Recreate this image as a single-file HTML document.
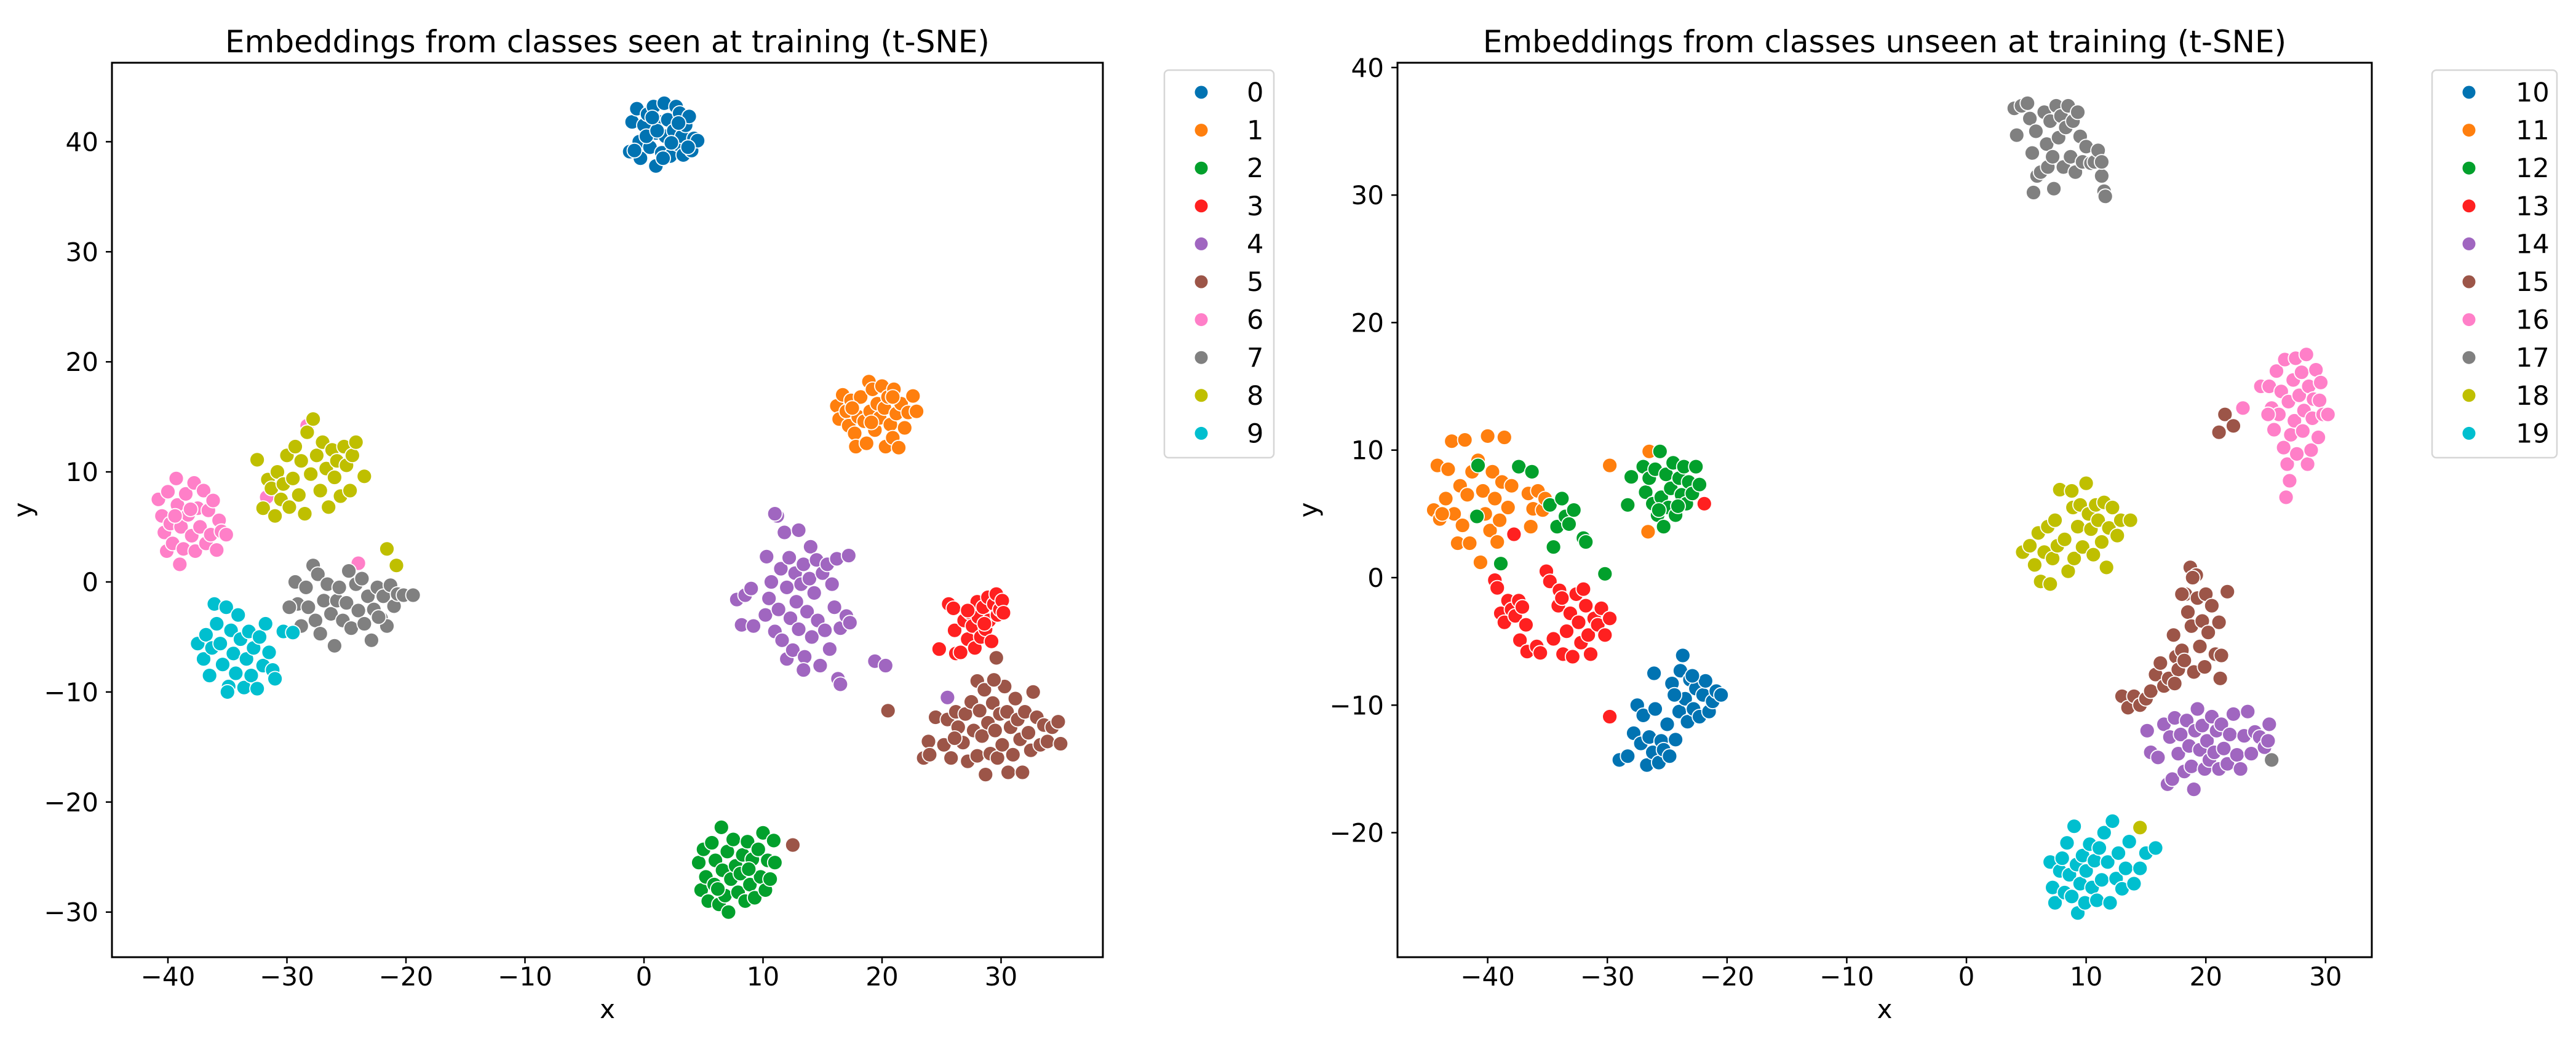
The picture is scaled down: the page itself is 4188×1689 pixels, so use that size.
<!DOCTYPE html>
<html><head><meta charset="utf-8">
<style>
html,body{margin:0;padding:0;background:#fff;}
svg{display:block;font-family:"DejaVu Sans","Liberation Sans",sans-serif;}
</style></head>
<body>
<svg id="fig" width="4188" height="1689" viewBox="0 0 4188 1689" xmlns="http://www.w3.org/2000/svg">
<rect x="0" y="0" width="4188" height="1689" fill="#fff"/>
<g id="left"></g>
<g id="right"></g>
</svg>
<script>
const palette = ["#0173b2","#ff7f0e","#02a02c","#ff2020","#a066c0","#9c5548","#ff7fc8","#808080","#bfbf00","#00bfcf"];
const seenLabels = ["0","1","2","3","4","5","6","7","8","9"];
const unseenLabels = ["10","11","12","13","14","15","16","17","18","19"];
const leftXTicks = [-40,-30,-20,-10,0,10,20,30];
const leftYTicks = [-30,-20,-10,0,10,20,30,40];
const rightXTicks = [-40,-30,-20,-10,0,10,20,30];
const rightYTicks = [-20,-10,0,10,20,30,40];

const seen0 = [[-1.2,39.1],[-1,41.8],[-0.6,43],[-0.4,40],[-0.3,38.5],[0,41.5],[0.3,42.5],[0.5,39.5],[0.8,43.2],[1,37.8],[1,40.8],[1.3,41.8],[1.5,39],[1.7,43.5],[1.8,40.5],[2,42],[2.2,38.7],[2.5,41],[2.7,43.2],[2.8,39.8],[3,42.6],[3.2,40.5],[3.3,38.8],[3.5,41.5],[3.8,42.3],[4,39.2],[4.2,40.3],[4.5,40.1],[0.2,40.5],[2.3,39.9],[1.1,41],[3.7,39.5],[-0.8,39.2],[0.7,42.2],[2.9,41.7],[1.6,38.5]];
const seen1 = [[16.2,16],[16.4,14.8],[16.7,17],[17,15.5],[17.2,14.2],[17.4,16.5],[17.7,13.5],[17.8,12.3],[18,15],[18.2,16.8],[18.5,14.6],[18.7,12.6],[18.9,18.2],[19,15.5],[19.2,17.5],[19.4,13.8],[19.6,16.2],[19.8,14.9],[20,17.8],[20.2,15.8],[20.3,12.3],[20.5,16.8],[20.7,14.3],[20.9,13.1],[21,17.5],[21.2,15.3],[21.4,12.2],[21.6,16.2],[21.9,14],[22.2,15.4],[22.6,16.9],[22.9,15.5],[19.1,14.5],[17.5,15.8],[20.9,16.8]];
const seen2 = [[4.6,-25.5],[4.8,-28],[5,-24.3],[5.2,-26.8],[5.4,-29],[5.7,-23.7],[5.9,-27.5],[6,-25.3],[6.3,-29.3],[6.5,-22.3],[6.6,-26.2],[6.8,-28.5],[7,-24.5],[7.1,-30],[7.3,-27],[7.5,-23.4],[7.7,-25.8],[7.9,-28.2],[8.1,-26.5],[8.3,-24.8],[8.5,-29],[8.7,-23.6],[8.9,-27.5],[9.1,-25.2],[9.3,-28.7],[9.6,-24.3],[9.8,-26.8],[10,-22.8],[10.2,-28],[10.4,-25.3],[10.6,-27],[10.9,-23.5],[11,-25.5],[6.2,-27.9],[8.8,-26.1]];
const seen3 = [[24.8,-6.1],[25.6,-2],[26,-2.4],[26.1,-4.4],[26.2,-6.5],[26.6,-6.4],[26.9,-3.5],[27.2,-5.2],[27.4,-2.8],[27.6,-4],[27.8,-6],[28,-1.8],[28.1,-3.2],[28.3,-5],[28.5,-2.3],[28.7,-4.3],[28.9,-1.4],[29,-3.5],[29.2,-5.4],[29.4,-2],[29.6,-1.1],[29.7,-3],[29.9,-2.5],[30.1,-1.7],[30.2,-2.8],[27.2,-2.6],[28.6,-3.8]];
const seen4 = [[7.8,-1.6],[8.2,-3.9],[8.5,-1.2],[9,-0.6],[9.2,-4],[10.2,-3],[10.5,-1.5],[10.7,0],[11,-4.5],[11.2,6],[11.3,-2.5],[11.5,1.2],[11.6,-5.3],[11.8,4.5],[12,-0.5],[12,-7],[12.2,2.2],[12.3,-3.3],[12.5,-6.2],[12.7,0.8],[12.8,-1.8],[13,4.7],[13,-4.3],[13.2,-0.2],[13.4,1.6],[13.5,-6.8],[13.7,-2.7],[13.9,0.3],[14,3.2],[14.1,-5],[14.3,-1],[14.5,2],[14.6,-3.5],[14.8,-7.6],[15,0.8],[15.2,-4.4],[15.4,1.6],[15.6,-6.1],[15.8,-0.2],[16,-2.3],[16.2,2.1],[16.3,-8.8],[16.5,-4.2],[17,-3.1],[17.3,-3.7],[17.2,2.4],[11,6.2],[10.3,2.3],[16.5,-9.3],[13.4,-8],[19.4,-7.2],[20.3,-7.6],[25.5,-10.5]];
const seen5 = [[23.5,-16],[23.9,-14.5],[24,-15.7],[24.5,-12.3],[25.2,-14.8],[25.5,-12.5],[25.8,-16],[26.2,-11.8],[26.4,-13.2],[26.8,-14.6],[27,-12],[27.2,-16.3],[27.5,-10.9],[27.7,-13.5],[28,-9],[28,-15.8],[28.2,-11.7],[28.4,-14],[28.6,-9.8],[28.7,-17.5],[28.9,-12.8],[29.1,-15.6],[29.3,-11],[29.5,-13.5],[29.7,-16],[29.9,-12],[30.1,-14.8],[30.3,-9.5],[30.5,-11.8],[30.6,-17.3],[30.8,-13.2],[31,-15.7],[31.2,-10.6],[31.4,-12.5],[31.6,-14.3],[31.8,-17.3],[32,-11.8],[32.3,-13.7],[32.5,-15.3],[32.7,-10],[33,-12.3],[33.3,-14.8],[33.6,-13],[33.9,-14.5],[34.3,-13.2],[34.8,-12.7],[35,-14.7],[26.1,-14.2],[29.4,-8.9],[20.5,-11.7],[12.5,-23.9],[29.6,-6.9]];
const seen6 = [[-40.8,7.5],[-40.5,6],[-40.3,4.5],[-40.1,2.8],[-40,8.2],[-39.8,5.3],[-39.6,3.5],[-39.3,9.4],[-39.2,7],[-39,1.6],[-38.9,5],[-38.7,3],[-38.5,8],[-38.3,6.1],[-38,4.2],[-37.8,9],[-37.7,2.8],[-37.5,6.7],[-37.3,5],[-37,8.3],[-36.8,3.5],[-36.6,6.5],[-36.4,4.3],[-36.2,7.4],[-35.9,2.9],[-35.7,5.6],[-35.5,4.6],[-35.1,4.3],[-38.1,6.6],[-39.4,6],[-28.3,14.2],[-31.7,7.7],[-24,1.7]];
const seen7 = [[-29.3,0],[-29.1,-2],[-28.8,-4],[-28.4,-0.5],[-28.2,-2.3],[-27.8,1.5],[-27.6,-3.5],[-27.4,0.7],[-27.2,-4.7],[-26.9,-1.7],[-26.6,-0.2],[-26.3,-2.9],[-26,-5.8],[-25.8,-1.7],[-25.6,-0.5],[-25.3,-3.5],[-25,-1.9],[-24.8,1],[-24.6,-4.2],[-24.2,-0.2],[-24,-2.6],[-23.7,0.3],[-23.5,-3.8],[-23.2,-1.3],[-22.9,-5.3],[-22.7,-2.5],[-22.4,-0.5],[-22.1,-3.3],[-21.9,-1.3],[-21.6,-4],[-21.3,-0.3],[-21,-2.2],[-20.7,-1.1],[-20.2,-1.2],[-19.4,-1.2],[-22.3,-3.2],[-29.8,-2.3]];
const seen8 = [[-32.5,11.1],[-32,6.7],[-31.6,9.3],[-31.3,8.5],[-31,6],[-30.8,10],[-30.5,7.5],[-30.3,8.9],[-30,11.5],[-29.8,6.8],[-29.5,9.4],[-29.3,12.3],[-29,7.9],[-28.8,11],[-28.5,6.2],[-28.3,13.6],[-28,9.8],[-27.8,14.8],[-27.5,11.5],[-27.2,8.3],[-27,12.7],[-26.7,10.3],[-26.5,6.8],[-26.2,12],[-26,9.5],[-25.8,11],[-25.5,7.8],[-25.2,12.3],[-25,10.6],[-24.7,8.3],[-24.5,11.5],[-24.2,12.7],[-23.5,9.6],[-21.6,3],[-20.8,1.5]];
const seen9 = [[-37.5,-5.6],[-37,-7],[-36.8,-4.8],[-36.5,-8.5],[-36.3,-6],[-36.1,-2],[-35.9,-3.8],[-35.6,-5.6],[-35.4,-7.5],[-35.1,-2.3],[-34.9,-9.5],[-34.7,-4.4],[-34.5,-6.5],[-34.3,-8.3],[-34.1,-3],[-33.9,-5.2],[-33.6,-9.6],[-33.4,-7],[-33.2,-4.5],[-33,-8.5],[-32.8,-6],[-32.5,-9.7],[-32.3,-5],[-32,-7.6],[-31.8,-3.8],[-31.5,-6.4],[-31.2,-8],[-31,-8.8],[-35,-10],[-30.3,-4.5],[-29.5,-4.6]];

const unseen10 = [[-29,-14.3],[-28.3,-14],[-27.8,-12.2],[-27.5,-10],[-27.2,-13],[-27,-10.8],[-26.7,-14.7],[-26.5,-12.5],[-26.2,-13.7],[-26,-10.3],[-25.7,-14.5],[-25.5,-12.8],[-25.3,-13.5],[-25,-11.5],[-24.8,-14],[-24.6,-8.3],[-24.3,-12.7],[-24,-10.5],[-23.9,-7.3],[-23.7,-6.1],[-23.5,-9.5],[-23.3,-11.3],[-23.1,-8],[-22.8,-10.3],[-22.6,-8.7],[-22.3,-10.9],[-22,-9.2],[-21.8,-8.1],[-21.5,-10.5],[-21.2,-9.7],[-20.9,-8.9],[-20.5,-9.2],[-26.1,-7.5],[-24.4,-9.2],[-22.9,-7.7]];
const unseen11 = [[-44.5,5.3],[-44.2,8.8],[-44,4.6],[-43.5,6.2],[-43.3,8.5],[-43,10.7],[-42.8,5],[-42.5,2.7],[-42.3,7.2],[-42.1,4.1],[-41.9,10.8],[-41.7,6.5],[-41.5,2.7],[-41.3,8.3],[-41,4.8],[-40.8,9.2],[-40.6,1.2],[-40.4,6.8],[-40.2,5],[-40,11.1],[-39.8,3.7],[-39.6,8.3],[-39.4,6.2],[-39.2,2.8],[-39,4.5],[-38.8,7.5],[-38.6,11],[-38.3,5.5],[-38,7.2],[-36.6,6.6],[-36.4,4],[-36.2,5.4],[-35.8,6.8],[-35.4,5.3],[-35.2,6.2],[-29.8,8.8],[-26.5,9.9],[-26.6,3.6],[-43.8,5]];
const unseen12 = [[-27,8.7],[-26.8,6.7],[-26.5,7.8],[-26.2,5.8],[-26,8.5],[-25.8,4.9],[-25.6,9.9],[-25.5,6.3],[-25.3,4],[-25.1,8.1],[-24.9,5.5],[-24.7,7],[-24.5,9],[-24.3,4.9],[-24,7.8],[-23.8,6.5],[-23.6,8.7],[-23.4,5.8],[-23.2,7.5],[-22.9,6.6],[-22.6,8.7],[-22.3,7.3],[-25.7,5.3],[-24.1,5.6],[-34.8,5.7],[-34.5,2.4],[-34.2,4],[-33.8,6.2],[-33.5,4.8],[-33.2,4.2],[-32.8,5.3],[-32,3.1],[-31.8,2.8],[-40.8,8.8],[-40.9,4.8],[-38.9,1.1],[-37.4,8.7],[-36.3,8.3],[-30.2,0.3],[-28.3,5.7],[-28,7.9]];
const unseen13 = [[-39.4,-0.2],[-39.2,-0.8],[-38.9,-2.8],[-38.6,-3.5],[-38.3,-1.8],[-38,-2.5],[-37.7,-3],[-37.4,-1.8],[-37.1,-2.3],[-36.8,-3.7],[-37.3,-4.9],[-36.7,-5.8],[-35.9,-5.4],[-35.6,-5.9],[-35.1,0.5],[-34.8,-0.3],[-34.5,-4.8],[-34.1,-2.2],[-34,-1],[-33.7,-6],[-33.4,-4.2],[-33.1,-2.8],[-32.9,-6.2],[-32.6,-1.3],[-32.4,-3.5],[-32.2,-5.1],[-32,-0.9],[-31.8,-2.2],[-31.6,-4.5],[-31.4,-6],[-31.1,-3.2],[-30.8,-3.7],[-30.5,-2.4],[-30.2,-4.5],[-29.8,-3.2],[-33.8,-1.6],[-37.8,3.4],[-21.9,5.8],[-29.8,-10.9]];
const unseen14 = [[15.1,-12],[15.4,-13.7],[16,-14.1],[16.5,-11.5],[16.8,-16.2],[17,-12.5],[17.2,-15.8],[17.4,-11],[17.7,-13.8],[17.9,-12.3],[18.2,-15.2],[18.4,-11.2],[18.6,-13.2],[18.8,-14.8],[19,-16.6],[19.1,-12],[19.3,-10.3],[19.5,-13.5],[19.7,-11.6],[19.9,-15],[20.1,-12.8],[20.3,-14.3],[20.5,-10.9],[20.7,-13.7],[20.9,-12],[21.1,-15],[21.3,-11.5],[21.5,-13.4],[21.8,-14.6],[22,-12.3],[22.3,-10.7],[22.6,-13.9],[22.9,-15],[23.2,-12.4],[23.5,-10.5],[23.8,-13.8],[24.1,-12.1],[24.5,-12.5],[24.9,-13.3],[25.3,-11.5],[25.2,-12.8]];
const unseen15 = [[13,-9.3],[13.5,-10.2],[14,-9.3],[14.5,-10],[15,-9.5],[15.4,-8.9],[15.8,-7.6],[16.2,-6.7],[16.5,-8.5],[16.9,-7.9],[17.3,-4.5],[17.5,-6.2],[17.7,-7.2],[18,-5.7],[18.2,-6.5],[18.3,-1.3],[18.5,-2.7],[18.7,0.8],[18.8,-3.8],[19,-7.4],[19.2,0.2],[19.3,-1.6],[19.5,-5.4],[19.7,-3.4],[19.9,-7],[20,-1.3],[20.2,-4.3],[20.5,-2.2],[20.8,-6],[21.1,-3.5],[21.2,-7.9],[21.3,-6.1],[18,-1.3],[21.8,-1.1],[21.1,11.4],[21.6,12.8],[22.3,11.9],[17.4,-8.3],[18.9,0]];
const unseen16 = [[24.6,15],[25.3,15],[25.5,13.3],[25.7,11.6],[25.9,16.2],[26.1,12.8],[26.3,14.6],[26.5,10.2],[26.6,17.1],[26.7,6.3],[26.8,8.9],[26.9,13.8],[27,7.6],[27.1,11.2],[27.3,15.5],[27.4,12.3],[27.5,17.2],[27.6,9.7],[27.8,14.3],[28,16.1],[28.1,11.5],[28.2,13.1],[28.4,17.5],[28.5,8.9],[28.6,15],[28.8,10],[28.9,12.5],[29,14],[29.2,16.3],[29.4,11],[29.5,13.9],[29.8,12.8],[30.2,12.8],[29.6,15.3],[23.1,13.3],[25.2,12.8]];
const unseen17 = [[4,36.8],[4.2,34.7],[4.6,37],[5.1,37.2],[5.3,36],[5.5,33.3],[5.6,30.2],[5.8,35],[5.9,31.5],[6.2,31.8],[6.5,36.5],[6.7,34],[6.8,32.2],[7,35.8],[7.2,33],[7.3,30.5],[7.5,37],[7.7,34.5],[7.9,36.2],[8.1,32.2],[8.3,35.3],[8.5,37],[8.7,33],[8.9,35.8],[9.1,31.8],[9.3,36.5],[9.5,34.6],[9.7,32.6],[10,33.8],[10.4,32.5],[10.7,32.6],[11,33.5],[11.3,31.5],[11.5,30.3],[11.6,29.9],[11.3,32.6],[25.5,-14.3]];
const unseen18 = [[4.7,2],[5.3,2.5],[5.7,1],[6,3.5],[6.2,-0.3],[6.5,2],[6.8,4],[7,-0.5],[7.2,1.5],[7.4,4.5],[7.6,2.5],[7.8,6.9],[8.2,3],[8.5,0.5],[8.8,6.8],[8.9,5.5],[9,1.5],[9.3,4],[9.5,5.7],[9.7,2.4],[10,7.4],[10.2,5],[10.4,3.8],[10.6,1.8],[10.8,5.7],[11,4.5],[11.3,2.8],[11.5,5.9],[11.7,0.8],[11.9,3.9],[12.2,5.5],[12.6,3.3],[12.9,4.5],[13.7,4.5],[14.5,-19.6]];
const unseen19 = [[7,-22.3],[7.2,-24.3],[7.4,-25.5],[7.8,-23],[8,-22],[8.2,-24.7],[8.4,-20.8],[8.6,-23.3],[8.8,-25],[9,-19.5],[9.2,-22.5],[9.3,-26.3],[9.5,-24],[9.7,-21.8],[9.9,-25.5],[10,-23],[10.3,-20.9],[10.5,-24.3],[10.7,-22.2],[10.9,-25.3],[11.1,-21.2],[11.3,-23.7],[11.5,-20],[11.8,-22.3],[12,-25.5],[12.2,-19.1],[12.5,-23.6],[12.7,-21.6],[13,-24.4],[13.3,-22.8],[13.6,-20.7],[14,-24],[14.5,-22.8],[15,-21.6],[15.8,-21.2]];

const seenSeries = [seen0,seen1,seen2,seen3,seen4,seen5,seen6,seen7,seen8,seen9];
const unseenSeries = [unseen10,unseen11,unseen12,unseen13,unseen14,unseen15,unseen16,unseen17,unseen18,unseen19];

const NS = "http://www.w3.org/2000/svg";
function mk(tag, attrs, parent){const e=document.createElementNS(NS,tag);for(const k in attrs)e.setAttribute(k,attrs[k]);parent.appendChild(e);return e;}

function drawPanel(g, cfg){
  const sx = v => cfg.x0px + cfg.xScale*v;
  const sy = v => cfg.y0px - cfg.yScale*v;
  const L=cfg.left,R=cfg.right,T=102,B=1556;
  const bg = mk("rect",{x:L,y:T,width:R-L,height:B-T,fill:"#fff"},g);
  
  
  const clipId = "clip"+cfg.id;
  const cp = mk("clipPath",{id:clipId},g);
  mk("rect",{x:L,y:T,width:R-L,height:B-T},cp);
  const pts = mk("g",{"clip-path":"url(#"+clipId+")"},g);
  
  
  cfg.series.forEach((s,i)=>{
    s.forEach(p=>{
      const c = mk("circle",{cx:sx(p[0]).toFixed(1),cy:sy(p[1]).toFixed(1),r:12,fill:palette[i],stroke:"#fff","stroke-width":1.8},pts);
      
      
    });
  });
  cfg.xTicks.forEach(t=>{
    const x=sx(t);
    const tk = mk("line",{x1:x,y1:B,x2:x,y2:B+10,stroke:"#000","stroke-width":2.5},g);
    
    
    const tx = mk("text",{x:x,y:1602,"font-size":42,"text-anchor":"middle",fill:"#000"},g);
    tx.textContent = t<0 ? "\u2212"+Math.abs(t) : String(t);
    
    
  });
  cfg.yTicks.forEach(t=>{
    const y=sy(t);
    const tk = mk("line",{x1:L-10,y1:y,x2:L,y2:y,stroke:"#000","stroke-width":2.5},g);
    
    
    const tx = mk("text",{x:L-22,y:y+15,"font-size":42,"text-anchor":"end",fill:"#000"},g);
    tx.textContent = t<0 ? "\u2212"+Math.abs(t) : String(t);
    
    
  });
  const fr = mk("rect",{x:L,y:T,width:R-L,height:B-T,fill:"none",stroke:"#000","stroke-width":3},g);
  
  
  const ti = mk("text",{x:(L+R)/2,y:85,"font-size":50,"text-anchor":"middle",fill:"#000"},g);
  ti.textContent = cfg.title;
  
  
  const xl = mk("text",{x:(L+R)/2,y:1655,"font-size":42,"text-anchor":"middle",fill:"#000"},g);
  xl.textContent = "x";
  
  
  const yl = mk("text",{x:0,y:0,"font-size":42,"text-anchor":"middle",fill:"#000",transform:"translate("+(L-130)+","+((T+B)/2)+") rotate(-90)"},g);
  yl.textContent = "y";
  
  
  // legend
  const lg = mk("g",{},g);
  
  
  mk("rect",{x:cfg.legL,y:114,width:cfg.legW,height:630,rx:7,fill:"#fff",stroke:"#d6d6d6","stroke-width":2.5},lg);
  cfg.labels.forEach((lab,i)=>{
    const y = 150 + i*61.6;
    const en = mk("g",{},lg);
    
    
    mk("circle",{cx:cfg.legMarkX,cy:y,r:10.5,fill:palette[i]},en);
    const t = mk("text",{x:cfg.legTextX,y:y+15,"font-size":43,fill:"#000"},en);
    t.textContent = lab;
  });
}

drawPanel(document.getElementById("left"),{
  id:"L", left:182, right:1793, x0px:1047, xScale:19.35, y0px:946, yScale:17.89,
  series:seenSeries, labels:seenLabels, xTicks:leftXTicks, yTicks:leftYTicks,
  title:"Embeddings from classes seen at training (t-SNE)",
  legL:1893, legW:178, legMarkX:1953, legTextX:2027
});
drawPanel(document.getElementById("right"),{
  id:"R", left:2272, right:3856, x0px:3197, xScale:19.46, y0px:939, yScale:20.73,
  series:unseenSeries, labels:unseenLabels, xTicks:rightXTicks, yTicks:rightYTicks,
  title:"Embeddings from classes unseen at training (t-SNE)",
  legL:3954, legW:203, legMarkX:4014, legTextX:4090
});
</script>
</body></html>
